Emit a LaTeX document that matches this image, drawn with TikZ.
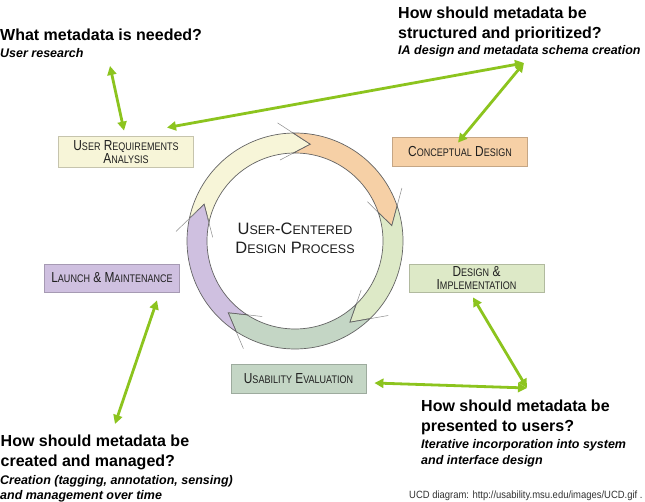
\documentclass[tikz,border=0pt]{standalone}
\usepackage{fontspec}
\setmainfont{Liberation Sans}
\newfontfamily\capsfont[FakeStretch=0.82]{Liberation Sans}
\newfontfamily\notefont[FakeStretch=0.9]{Liberation Sans}
\usetikzlibrary{arrows.meta,calc}

\definecolor{arrowgreen}{RGB}{140,196,30}
\definecolor{ringline}{RGB}{100,100,100}
\definecolor{creamfill}{RGB}{247,245,216}
\definecolor{peachfill}{RGB}{246,208,166}
\definecolor{leaffill}{RGB}{221,233,199}
\definecolor{sagefill}{RGB}{196,214,197}
\definecolor{lilacfill}{RGB}{207,192,224}

% fake small caps
\newcommand{\boxsc}[1]{{\fontsize{11}{13.5}\selectfont #1}}
\newcommand{\hubsc}[1]{{\fontsize{12.5}{19}\selectfont #1}}

\tikzset{
  stage/.style={draw=#1!80!black, fill=#1, line width=0.8pt, minimum width=135pt,
    minimum height=29pt, inner sep=0pt, align=center, text=black!88,
    font=\capsfont\fontsize{14.5}{13.5}\selectfont},
  question/.style={anchor=base west, inner sep=0pt, font=\bfseries\fontsize{16}{19}\selectfont},
  answer/.style={anchor=base west, inner sep=0pt, font=\bfseries\itshape\fontsize{12.5}{15}\selectfont},
  link/.style={draw=arrowgreen, line width=2.8pt,
    {Triangle[length=9pt,width=9pt]}-{Triangle[length=9pt,width=9pt]}},
  segment/.style={draw=ringline, line width=0.7pt, fill=#1},
  ghost/.style={draw=black!45, line width=0.5pt}
}

\begin{document}
\begin{tikzpicture}[x=1pt,y=-1pt]
\useasboundingbox[fill=white] (0,0) rectangle (645,502);

% ring of stages
\begin{scope}[shift={(295,241)}, y=1pt]
\foreach \s/\e/\col in {168/91/creamfill, 91/19/peachfill, 19/-46/leaffill, -46/-123/sagefill, -123/-192/lilacfill}{
  \path[segment=\col] (\s:108) arc[start angle=\s, end angle=\e, radius=108]
    -- ({\e-10}:98) -- (\e:88) arc[start angle=\e, end angle=\s, radius=88]
    -- ({\s-10}:98) -- cycle;
  \coordinate (tip) at ({\e-10}:98);
  \draw[ghost] ($(tip)!0.5!(\e:108)$) -- ($(tip)!1.9!(\e:108)$);
  \draw[ghost] ($(tip)!0.6!(\e:88)$) -- ($(tip)!1.8!(\e:88)$);
}
\end{scope}
\node[font=\fontsize{16.5}{19}\selectfont, text=black!88, align=center] (hub) at (295,238.5)
  {U\hubsc{SER}-C\hubsc{ENTERED}\\D\hubsc{ESIGN} P\hubsc{ROCESS}};

% stage boxes
\node[stage=creamfill, minimum height=31pt] (ura) at (126,152) {U\boxsc{SER} R\boxsc{EQUIREMENTS}\\A\boxsc{NALYSIS}};
\node[stage=peachfill] (cd) at (460,151.5) {C\boxsc{ONCEPTUAL} D\boxsc{ESIGN}};
\node[stage=lilacfill, minimum height=28pt] (lm) at (112,278) {L\boxsc{AUNCH} \& M\boxsc{AINTENANCE}};
\node[stage=leaffill, minimum height=28pt] (di) at (476.5,278) {D\boxsc{ESIGN} \&\\I\boxsc{MPLEMENTATION}};
\node[stage=sagefill] (ue) at (298.5,378.5) {U\boxsc{SABILITY} E\boxsc{VALUATION}};

% questions
\node[question] (need1) at (0,41) {What metadata is needed?};
\node[answer] (need2) at (0,57.5) {User research};
\node[question] (struct1) at (398,19) {How should metadata be};
\node[question] (struct2) at (398,39) {structured and prioritized?};
\node[answer] (struct3) at (398,55) {IA design and metadata schema creation};
\node[question] (create1) at (0.5,446) {How should metadata be};
\node[question] (create2) at (0.5,466) {created and managed?};
\node[answer] (create3) at (0,484) {Creation (tagging, annotation, sensing)};
\node[answer] (create4) at (0,499) {and management over time};
\node[question] (present1) at (421,411) {How should metadata be};
\node[question] (present2) at (421,431) {presented to users?};
\node[answer] (present3) at (421,448) {Iterative incorporation into system};
\node[answer] (present4) at (421,464) {and interface design};
\node[anchor=base west, inner sep=0pt, font=\notefont\fontsize{10.5}{12}\selectfont, text=black!80] (src) at (409,498.5)
  {UCD diagram: http://usability.msu.edu/images/UCD.gif .};

% arrows
\coordinate (need) at (110,66);
\coordinate (struct) at (524,63);
\coordinate (create) at (115,424);
\coordinate (present) at (527,388);
\draw[link] (need) -- ([xshift=-2pt,yshift=5.5pt]ura.north);
\draw[link] (struct) -- ([xshift=41pt,yshift=8.5pt]ura.north);
\draw[link] (struct) -- ([xshift=-2pt,yshift=-6pt]cd.north);
\draw[link] (create) -- ([xshift=45pt,yshift=-8pt]lm.south);
\draw[link] (present) -- ([xshift=-3.5pt,yshift=-5pt]di.south);
\draw[link] (present) -- ([xshift=8pt,yshift=-4.5pt]ue.east);
\end{tikzpicture}
\end{document}
